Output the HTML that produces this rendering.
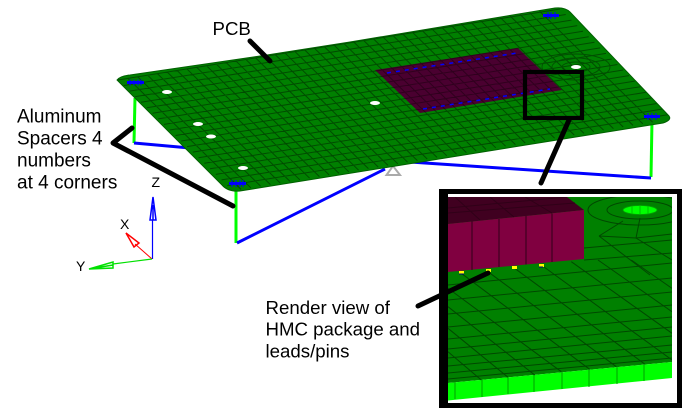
<!DOCTYPE html>
<html><head><meta charset="utf-8"><style>
html,body{margin:0;padding:0;background:#fff;width:692px;height:417px;overflow:hidden}
svg{display:block}
text{font-family:"Liberation Sans",Arial,sans-serif;fill:#000}
</style></head><body>
<svg width="692" height="417" viewBox="0 0 692 417" xmlns="http://www.w3.org/2000/svg">
<defs>
<path id="mesh" fill="none" d="M118 80l442-71m-436.250 76.550l442-71m-436.250 76.550l442-71m-436.250 76.550l442-71m-436.250 76.550l442-71m-436.250 76.550l442-71m-436.250 76.550l442-71m-436.250 76.550l442-71m-436.250 76.550l442-71m-436.250 76.550l442-71m-436.250 76.550l442-71m-436.250 76.550l442-71m-436.250 76.550l442-71m-436.250 76.550l442-71m-436.250 76.550l442-71m-436.250 76.550l442-71m-436.250 76.550l442-71m-436.250 76.550l442-71m-436.250 76.550l442-71m-436.250 76.550l442-71
M128 78.400l113 111m-103.200-112.600l113 111m-103.200-112.600l113 111m-103.200-112.600l113 111m-103.200-112.600l113 111m-103.200-112.600l113 111m-103.200-112.600l113 111m-103.200-112.600l113 111m-103.200-112.600l113 111m-103.200-112.600l113 111m-103.200-112.600l113 111m-103.200-112.600l113 111m-103.200-112.600l113 111m-103.200-112.600l113 111m-103.200-112.600l113 111m-103.200-112.600l113 111m-103.200-112.600l113 111m-103.200-112.600l113 111m-103.200-112.600l113 111m-103.200-112.600l113 111m-103.200-112.600l113 111m-103.200-112.600l113 111m-103.200-112.600l113 111m-103.200-112.600l113 111m-103.200-112.600l113 111m-103.200-112.600l113 111m-103.200-112.600l113 111m-103.200-112.600l113 111m-103.200-112.600l113 111m-103.200-112.600l113 111m-103.200-112.600l113 111m-103.200-112.600l113 111m-103.200-112.600l113 111m-103.200-112.600l113 111m-103.200-112.600l113 111m-103.200-112.600l113 111m-103.200-112.600l113 111m-103.200-112.600l113 111m-103.200-112.600l113 111m-103.200-112.600l113 111m-103.200-112.600l113 111m-103.200-112.600l113 111m-103.200-112.600l113 111"/>
<clipPath id="pcb"><path d="M117 80Q120 76 130 75L267 55L350 42L555 8Q565 7 570 12L669 116Q672 120 663 123L240 191Q228 192 222 185Z"/></clipPath>
<clipPath id="pk"><path d="M375 70L518 48L562 90L420 113Z"/></clipPath>
<clipPath id="ic"><rect x="448" y="197" width="224" height="206"/></clipPath>
</defs>

<!-- supports -->
<path d="M135 98L134 143" stroke="#00ff00" stroke-width="3" fill="none"/>
<path d="M134 143L190 148" stroke="#0000ff" stroke-width="3" fill="none"/>
<path d="M236 188V243" stroke="#00ff00" stroke-width="3" fill="none"/>
<path d="M237 243L385 169" stroke="#0000ff" stroke-width="3" fill="none"/>
<path d="M652 120L651 177" stroke="#00ff00" stroke-width="3" fill="none"/>
<path d="M410 162L651 178" stroke="#0000ff" stroke-width="3" fill="none"/>
<path d="M386.500 175H400L393 166Z" fill="none" stroke="#aaa" stroke-width="2"/>

<!-- PCB -->
<path d="M117 80Q120 76 130 75L267 55L350 42L555 8Q565 7 570 12L669 116Q672 120 663 123L240 191Q228 192 222 185Z" fill="#008000"/>
<g clip-path="url(#pcb)"><use href="#mesh" stroke="#004c00" stroke-width="1"/></g>
<path d="M117 80Q120 76 130 75L267 55L350 42L555 8Q565 7 570 12L669 116Q672 120 663 123L240 191Q228 192 222 185Z" fill="none" stroke="#006000" stroke-width="1"/>
<path d="M375 70L518 48L562 90L420 113Z" fill="#4a0030"/>
<g clip-path="url(#pk)"><use href="#mesh" stroke="#30001e" stroke-width="1"/></g>
<path d="M387 73L517 53M423 109L550 89" stroke="#0000ff" stroke-width="1.500" stroke-dasharray="4 5" fill="none"/>
<g fill="none" stroke="#005000" stroke-width="0.900">
<ellipse cx="576" cy="67" rx="14" ry="5"/><ellipse cx="576" cy="67" rx="24" ry="9"/><ellipse cx="576" cy="67" rx="34" ry="13"/>
</g>
<g fill="#fff">
<ellipse cx="167" cy="92" rx="5" ry="2"/><ellipse cx="198" cy="124" rx="5" ry="2"/><ellipse cx="211" cy="136.500" rx="5" ry="2"/><ellipse cx="243" cy="168" rx="5" ry="2"/><ellipse cx="375" cy="103" rx="5" ry="2"/><ellipse cx="576" cy="67" rx="5" ry="2"/>
</g>
<g stroke="#0000ff" fill="none">
<path d="M127 82.500H144" stroke-width="3"/><path d="M130 79.500V85.500M134 79.500V85.500M138 79.500V85.500M141 79.500V85.500" stroke-width="1"/>
<path d="M229 183.500H246" stroke-width="3"/><path d="M232 180V187M236 180V187M240 180V187M243 180V187" stroke-width="1"/>
<path d="M543 15.500H559" stroke-width="3"/><path d="M548 12V19M551 12V19M555 12V19" stroke-width="1"/>
<path d="M644 116.500H660" stroke-width="3"/><path d="M648 113V120M652 113V120M656 113V120" stroke-width="1"/>
</g>

<!-- callouts -->
<rect x="525" y="72" width="57" height="46" fill="none" stroke="#000" stroke-width="4.200"/>
<g stroke="#000" stroke-width="5" fill="none" stroke-linecap="round" stroke-linejoin="round">
<path d="M250 41L270 61"/>
<path d="M132 128L113 143L233 206"/>
<path d="M569 120L541 183"/>
</g>

<!-- triad -->
<g fill="none">
<path d="M152.500 259V220" stroke="#0000ff" stroke-width="1.200"/>
<path d="M153 197L150 220H156Z M153 205V220" stroke="#0000ff" stroke-width="1.500"/>
<path d="M152 259L135 244" stroke="#f00" stroke-width="1"/>
<path d="M126 233L139 243L134 247Z" stroke="#f00" stroke-width="1.500"/>
<path d="M152 259L113 264" stroke="#00e000" stroke-width="1.200"/>
<path d="M89 269L113 262V268Z M95 268L113 265" stroke="#00e000" stroke-width="1.500"/>
</g>
<text x="151.500" y="187" font-size="14">Z</text>
<text x="120" y="229" font-size="14">X</text>
<text x="76" y="271" font-size="14">Y</text>

<!-- text -->
<text x="212.500" y="35" font-size="18.670">PCB</text>
<text x="17" y="122.500" font-size="19">Aluminum</text>
<text x="17" y="144.500" font-size="19">Spacers 4</text>
<text x="17" y="166.500" font-size="19">numbers</text>
<text x="17" y="188.500" font-size="19">at 4 corners</text>
<text x="265.500" y="314" font-size="18.670">Render view of</text>
<text x="265.500" y="335.700" font-size="18.670">HMC package and</text>
<text x="265.500" y="357.300" font-size="18.670">leads/pins</text>

<!-- inset frame -->
<path d="M439 189H682V408H439Z M448 194V403H677V194Z" fill="#000" fill-rule="evenodd"/>

<!-- inset content -->
<g clip-path="url(#ic)">
<path d="M448 197H672V362L448 383Z" fill="#008000"/>
<path d="M448 383L672 362V378L448 400.500Z" fill="#00ff00"/>
<g stroke="#00a000" stroke-width="1">
<path d="M455 382V399M482 379V397M508 376.500V394M534 374V392M562 372V389M589 369.500V387M617 367V384M644 364V381"/>
</g>
<g stroke="#004800" stroke-width="1" fill="none">
<path d="M448 285L672 263M448 300L672 278M448 314L672 292M448 327L672 305M448 339L672 317M448 349L672 327M448 358L672 336M448 366L672 345M448 373L672 352M448 379L672 358"/>
<path d="M461.300 273.300L589.700 369.300M488 271.700L616.300 366.700M514.700 268.300L644.700 364M541.300 265L672 360M571.300 261.700L672 333.300M598 260L672 311.700M631.300 260L672 288.300M448 288.300L561.300 371.700M448 306.700L534.700 375M448 328.300L508 377.300M448 351.700L481.300 380"/>
<path d="M640 218L636 238L672 260M599 236L650 275M599 236L623 221M636 238L672 234M599 236L636 238M584 248L672 240M584 260L672 253"/>
<ellipse cx="640" cy="210" rx="33" ry="9"/><ellipse cx="640" cy="210" rx="52" ry="15"/>
</g>
<ellipse cx="640" cy="210" rx="17" ry="4.500" fill="#00ff00" stroke="#00a000" stroke-width="0.800"/>
<path d="M640 205.500V214.500M632 206V214M648 206V214" stroke="#00c000" stroke-width="1"/>
<path d="M448 197H567L584 210L448 224Z" fill="#400020"/>
<path d="M448 224L584 210V259L448 272Z" fill="#800040"/>
<g stroke="#300018" stroke-width="1" fill="none">
<path d="M472 221.500V270M499 219V267M526 216V264.500M552 213.500V262"/>
<path d="M448 208L567 197M480 220L455 197M514 217L490 197M552 213L525 197M448 213L575 203"/>
</g>
<g fill="#ffff00">
<rect x="459" y="271" width="5" height="3"/><rect x="486" y="269" width="5" height="3"/><rect x="512" y="266" width="5" height="3"/><rect x="539" y="264" width="5" height="3"/>
</g>
<path d="M459 274h5M539 267h4" stroke="#000080" stroke-width="1"/>
</g>
<path d="M418 306L488 273" stroke="#000" stroke-width="5" stroke-linecap="round" fill="none"/>
</svg>
</body></html>
